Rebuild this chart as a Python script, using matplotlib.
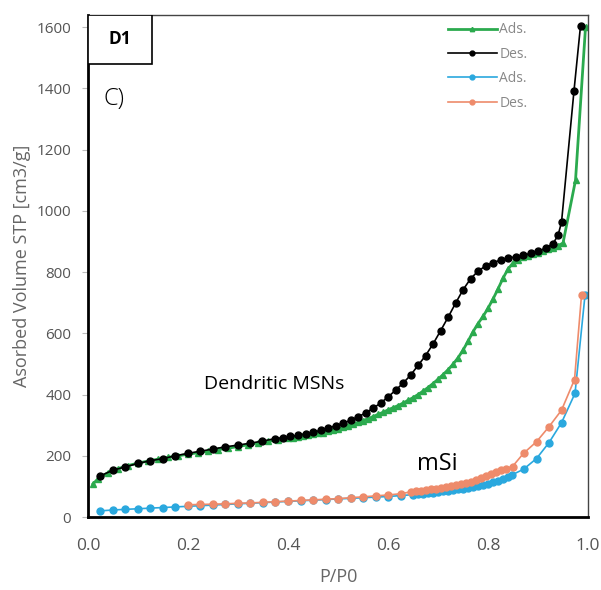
import matplotlib.pyplot as plt
from matplotlib.patches import Rectangle

plt.rcParams['font.family'] = ['Open Sans', 'DejaVu Sans']

# Dendritic MSNs - adsorption (green)
x_dmsn_ads = [0.01, 0.02, 0.04, 0.06, 0.08, 0.10, 0.12, 0.14, 0.16, 0.18,
              0.20, 0.22, 0.24, 0.26, 0.28, 0.30, 0.32, 0.34, 0.36, 0.38,
              0.40, 0.41, 0.42, 0.43, 0.44, 0.45, 0.46, 0.47, 0.48, 0.49,
              0.50, 0.51, 0.52, 0.53, 0.54, 0.55, 0.56, 0.57, 0.58, 0.59,
              0.60, 0.61, 0.62, 0.63, 0.64, 0.65, 0.66, 0.67, 0.68, 0.69,
              0.70, 0.71, 0.72, 0.73, 0.74, 0.75, 0.76, 0.77, 0.78, 0.79,
              0.80, 0.81, 0.82, 0.83, 0.84, 0.85, 0.86, 0.87, 0.88, 0.89,
              0.90, 0.91, 0.92, 0.93, 0.94, 0.95, 0.975, 0.995]
y_dmsn_ads = [108, 125, 145, 158, 168, 176, 183, 189, 195, 200,
              205, 210, 215, 220, 225, 230, 236, 242, 247, 252,
              257, 259, 262, 264, 267, 270, 273, 276, 280, 284,
              288, 293, 298, 303, 309, 315, 321, 328, 335, 342,
              350, 357, 364, 372, 381, 390, 400, 411, 423, 436,
              450, 465, 481, 499, 520, 545, 574, 605, 632, 655,
              682, 712, 745, 780, 810, 830, 841, 848, 854, 859,
              864, 869, 874, 880, 886, 895, 1100, 1600]

# Dendritic MSNs - desorption (black)
x_dmsn_des = [0.024, 0.05, 0.075, 0.10, 0.125, 0.15, 0.175, 0.20, 0.225, 0.25,
              0.274, 0.30, 0.324, 0.349, 0.374, 0.39, 0.405, 0.42, 0.435, 0.45,
              0.465, 0.48, 0.495, 0.51, 0.525, 0.54, 0.555, 0.57, 0.585, 0.60,
              0.615, 0.63, 0.645, 0.66, 0.675, 0.69, 0.705, 0.72, 0.735, 0.75,
              0.765, 0.78, 0.795, 0.81, 0.825, 0.84, 0.855, 0.87, 0.885, 0.90,
              0.915, 0.93, 0.94, 0.947, 0.972, 0.985]
y_dmsn_des = [134, 153, 164, 175, 184, 191, 200, 208, 215, 222,
              229, 235, 241, 248, 256, 259, 263, 267, 272, 277,
              283, 290, 298, 306, 316, 327, 340, 355, 372, 392,
              414, 437, 463, 495, 527, 565, 608, 652, 698, 742,
              778, 803, 820, 831, 839, 845, 850, 855, 861, 868,
              878, 893, 920, 963, 1393, 1605]

# mSi - adsorption (blue)
x_msi_ads = [0.024, 0.05, 0.075, 0.10, 0.125, 0.15, 0.175, 0.20, 0.225, 0.25,
             0.275, 0.30, 0.325, 0.35, 0.375, 0.40, 0.425, 0.45, 0.475, 0.50,
             0.525, 0.55, 0.575, 0.60, 0.625, 0.65, 0.66, 0.67, 0.68, 0.69,
             0.70, 0.71, 0.72, 0.73, 0.74, 0.75, 0.76, 0.77, 0.78, 0.79,
             0.80, 0.81, 0.82, 0.83, 0.84, 0.847, 0.871, 0.897, 0.922, 0.947,
             0.974, 0.994]
y_msi_ads = [20, 23, 25, 27, 29, 31, 33, 35, 37, 39,
             41, 43, 45, 47, 49, 51, 53, 55, 57, 59,
             61, 63, 65, 67, 70, 73, 75, 76, 78, 80,
             82, 84, 86, 88, 90, 92, 95, 98, 101, 105,
             109, 113, 118, 124, 130, 137, 156, 191, 243, 308,
             404, 725]

# mSi - desorption (orange)
x_msi_des = [0.20, 0.225, 0.25, 0.275, 0.30, 0.325, 0.35, 0.375, 0.40, 0.425,
             0.45, 0.475, 0.50, 0.525, 0.55, 0.575, 0.60, 0.625, 0.645, 0.655,
             0.665, 0.675, 0.685, 0.695, 0.705, 0.715, 0.725, 0.735, 0.745, 0.755,
             0.765, 0.775, 0.785, 0.795, 0.805, 0.815, 0.825, 0.835, 0.849, 0.871,
             0.897, 0.922, 0.947, 0.973, 0.987]
y_msi_des = [40, 41, 42, 43, 45, 46, 48, 50, 52, 54,
             56, 58, 60, 63, 66, 69, 72, 76, 82, 84,
             86, 88, 90, 92, 95, 98, 101, 104, 108, 112,
             116, 121, 127, 133, 140, 146, 152, 158, 165, 208,
             246, 295, 349, 449, 725]

green = '#2BAA4E'
blue = '#2AA8DE'
orange = '#EE8B6B'

fig = plt.figure(figsize=(6.01, 5.90), dpi=100)
ax = fig.add_axes([0.1464, 0.1237, 0.832, 0.851])

ax.plot(x_msi_ads, y_msi_ads, color=blue, linewidth=1.2, marker='o', markersize=5,
        label='Ads.')
ax.plot(x_msi_des, y_msi_des, color=orange, linewidth=1.2, marker='o', markersize=5,
        label='Des.')
ax.plot(x_dmsn_ads, y_dmsn_ads, color=green, linewidth=2, marker='^', markersize=4.5,
        label='Ads.')
ax.plot(x_dmsn_des, y_dmsn_des, color='black', linewidth=1.2, marker='o', markersize=5,
        label='Des.')

ax.set_xlim(0, 1.0)
ax.set_ylim(0, 1640)
ax.set_xticks([0.0, 0.2, 0.4, 0.6, 0.8, 1.0])
ax.set_yticks(range(0, 1601, 200))
ax.tick_params(axis='x', length=0, labelsize=12.5, labelcolor='#555555', pad=15)
ax.tick_params(axis='y', length=4, color='#bbbbbb', labelsize=11, labelcolor='#555555', pad=8)

ax.set_xlabel('P/P0', fontsize=13, color='#666666', labelpad=10)
ax.set_ylabel('Asorbed Volume STP [cm3/g]', fontsize=13, color='#666666', labelpad=4)

for side in ['left', 'bottom']:
    ax.spines[side].set_linewidth(2)
    ax.spines[side].set_color('black')
for side in ['top', 'right']:
    ax.spines[side].set_linewidth(1)
    ax.spines[side].set_color('#444444')

# legend: order green, black, blue, orange
h, l = ax.get_legend_handles_labels()
leg = ax.legend([h[2], h[3], h[0], h[1]], [l[2], l[3], l[0], l[1]],
                loc='upper left', bbox_to_anchor=(0.72, 0.985), frameon=False,
                numpoints=1, handlelength=3.5, handletextpad=0.2, labelspacing=0.68,
                borderpad=0, borderaxespad=0, fontsize=10, markerscale=0.7)
for t in leg.get_texts():
    t.set_color('#888888')

# label box and annotations
ax.add_patch(Rectangle((0, 0.903), 0.128, 0.097, transform=ax.transAxes,
                       facecolor='white', edgecolor='black', linewidth=1.2, zorder=5))
ax.text(0.064, 0.952, 'D1', transform=ax.transAxes, ha='center', va='center',
        fontsize=12.5, fontweight='bold', zorder=6)
ax.text(0.032, 0.832, 'C)', transform=ax.transAxes, ha='left', va='center',
        fontsize=17, fontweight='light')
ax.text(0.372, 0.264, 'Dendritic MSNs', transform=ax.transAxes, ha='center', va='center',
        fontsize=14)
ax.text(0.699, 0.106, 'mSi', transform=ax.transAxes, ha='center', va='center',
        fontsize=17)

plt.savefig('out.png', dpi=100)
